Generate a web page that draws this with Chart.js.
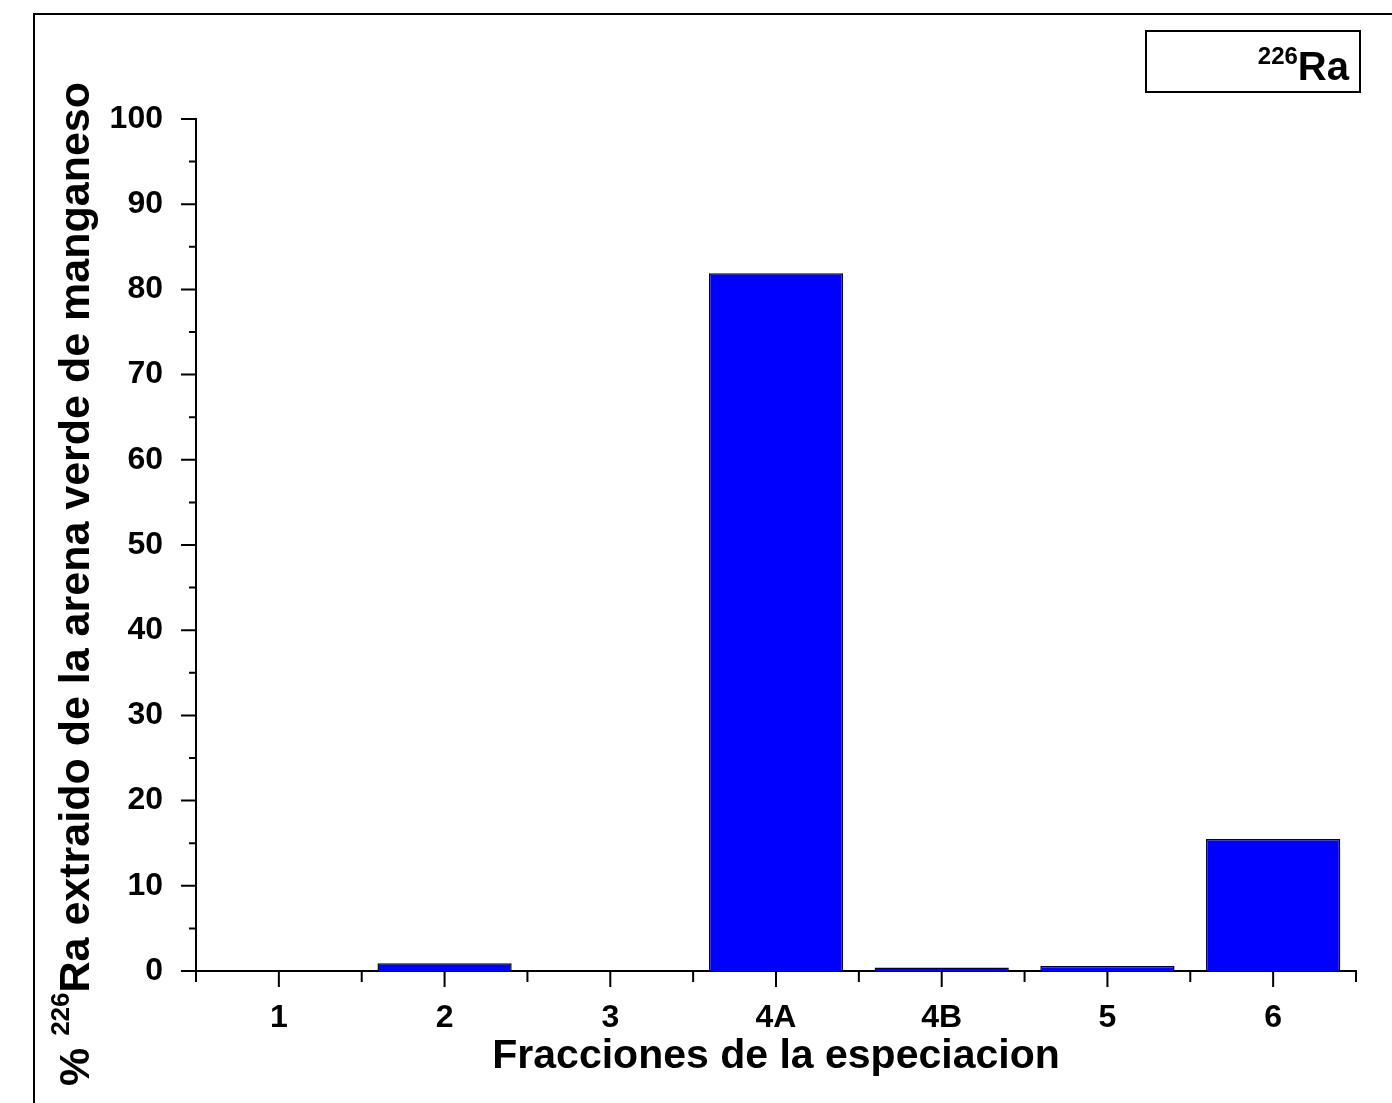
<!DOCTYPE html>
<html>
<head>
<meta charset="utf-8">
<script src="https://cdn.jsdelivr.net/npm/chart.js@4.4.1/dist/chart.umd.min.js"></script>
<style>
  html, body { margin: 0; padding: 0; background: #ffffff; }
  #wrap { position: relative; width: 1392px; height: 1103px; }
  canvas { display: block; }
</style>
</head>
<body>
<div id="wrap"><canvas id="chart" width="1392" height="1103"></canvas></div>
<script>
// Speciation fractions and % of 226Ra extracted in each one
const fractions = ['1', '2', '3', '4A', '4B', '5', '6'];
const extracted = [0, 0.9, 0, 81.9, 0.4, 0.6, 15.5];

// Value axis range and tick steps
const yMin = 0;
const yMax = 100;
const yMajorStep = 10;
const yMinorStep = 5;

const FONT = '"Liberation Sans", Arial, sans-serif';

// Outer frame, axis ticks (major + minor), axis titles with superscript, isotope label box
const decorations = {
  id: 'decorations',
  beforeDraw(chart) {
    const ctx = chart.ctx;
    ctx.save();
    ctx.fillStyle = '#ffffff';
    ctx.fillRect(0, 0, chart.width, chart.height);
    ctx.strokeStyle = '#000000';
    ctx.lineWidth = 2;
    ctx.beginPath();
    ctx.moveTo(34, chart.height);
    ctx.lineTo(34, 14);
    ctx.lineTo(chart.width, 14);
    ctx.stroke();
    ctx.restore();
  },
  afterDraw(chart) {
    const ctx = chart.ctx;
    const xs = chart.scales.x;
    const ys = chart.scales.y;
    const area = chart.chartArea;
    ctx.save();
    ctx.strokeStyle = '#000000';
    ctx.lineWidth = 2;
    ctx.lineCap = 'butt';

    // x ticks: long at category centres, short at category boundaries
    const centres = fractions.map((_, i) => xs.getPixelForValue(i));
    const half = (centres[1] - centres[0]) / 2;
    ctx.beginPath();
    centres.forEach(px => {
      ctx.moveTo(px, area.bottom);
      ctx.lineTo(px, area.bottom + 16);
    });
    for (let i = 0; i <= centres.length; i++) {
      const px = i < centres.length ? centres[i] - half : centres[centres.length - 1] + half;
      ctx.moveTo(px, area.bottom);
      ctx.lineTo(px, area.bottom + 11);
    }
    // y ticks: long at labelled values, short halfway between
    for (let v = yMin; v <= yMax; v += yMinorStep) {
      const py = ys.getPixelForValue(v);
      const len = (v % yMajorStep === 0) ? 15 : 7;
      ctx.moveTo(area.left, py);
      ctx.lineTo(area.left - len, py);
    }
    ctx.stroke();

    ctx.fillStyle = '#000000';
    ctx.textBaseline = 'alphabetic';

    // x axis title
    ctx.font = 'bold 41px ' + FONT;
    ctx.textAlign = 'center';
    ctx.fillText('Fracciones de la especiacion', (area.left + area.right) / 2, 1068);

    // y axis title with superscript mass number
    ctx.save();
    ctx.translate(89, 584);
    ctx.rotate(-Math.PI / 2);
    ctx.textAlign = 'left';
    const big = 'bold 43px ' + FONT;
    const small = 'bold 26px ' + FONT;
    const partA = '% ';
    const sup = '226';
    const partB = 'Ra extraido de la arena verde de manganeso';
    ctx.font = big;
    const wA = ctx.measureText(partA).width;
    const wB = ctx.measureText(partB).width;
    ctx.font = small;
    const wS = ctx.measureText(sup).width;
    let x = -(wA + wS + wB) / 2;
    ctx.font = big;
    ctx.fillText(partA, x, 0);
    x += wA;
    ctx.font = small;
    ctx.fillText(sup, x, -20);
    x += wS;
    ctx.font = big;
    ctx.fillText(partB, x, 0);
    ctx.restore();

    // isotope label box
    ctx.lineWidth = 2;
    ctx.strokeRect(1146, 31, 214, 61);
    ctx.font = 'bold 40px ' + FONT;
    ctx.textAlign = 'right';
    const wRa = ctx.measureText('Ra').width;
    ctx.fillText('Ra', 1349, 80);
    ctx.font = 'bold 24px ' + FONT;
    ctx.fillText('226', 1349 - wRa, 64);
    ctx.restore();
  }
};

new Chart(document.getElementById('chart'), {
  type: 'bar',
  data: {
    labels: fractions,
    datasets: [{
      label: '226Ra',
      data: extracted,
      backgroundColor: '#0000ff',
      borderColor: '#00003a',
      borderWidth: 1.5,
      borderSkipped: 'bottom',
      categoryPercentage: 0.81,
      barPercentage: 1.0
    }]
  },
  options: {
    responsive: false,
    animation: false,
    devicePixelRatio: 1,
    layout: { padding: { left: 0, right: 36, top: 119, bottom: 0 } },
    plugins: {
      legend: { display: false },
      tooltip: { enabled: false },
      title: { display: false }
    },
    scales: {
      x: {
        type: 'category',
        offset: true,
        grid: { display: false, drawTicks: false },
        border: { display: true, color: '#000000', width: 2 },
        ticks: {
          color: '#000000',
          padding: 28,
          font: { family: FONT, size: 32, weight: 'bold' },
          maxRotation: 0
        },
        afterFit(scale) { scale.height = 132; }
      },
      y: {
        min: yMin,
        max: yMax,
        grid: { display: false, drawTicks: false },
        border: { display: true, color: '#000000', width: 2 },
        ticks: {
          stepSize: yMajorStep,
          color: '#000000',
          padding: 33,
          font: { family: FONT, size: 32, weight: 'bold' }
        },
        afterFit(scale) { scale.width = 196; }
      }
    }
  },
  plugins: [decorations]
});
</script>
</body>
</html>
